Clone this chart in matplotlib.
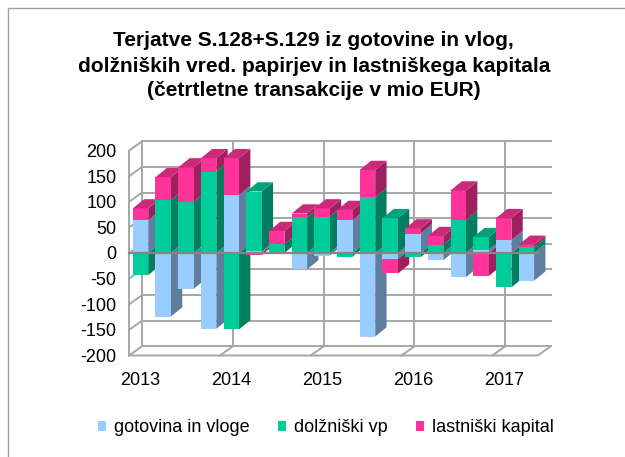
import matplotlib
matplotlib.use('Agg')
import matplotlib.pyplot as plt
from matplotlib.patches import Polygon, Patch, Rectangle
import numpy as np

plt.rcParams['font.family'] = ['Liberation Sans', 'DejaVu Sans']

# ---- data ----
quarters = ['2013Q1', '2013Q2', '2013Q3', '2013Q4', '2014Q1', '2014Q2', '2014Q3', '2014Q4',
            '2015Q1', '2015Q2', '2015Q3', '2015Q4', '2016Q1', '2016Q2', '2016Q3', '2016Q4',
            '2017Q1', '2017Q2']
gotovina = [64, -124, -70, -148, 113, 3, 0, -32, -5, 64, -163, -12, 38, -14, -47, 6, 25, -54]
dolzniski = [-43, 103, 100, 159, -149, 117, 17, 70, 71, -7, 109, 68, -8, 16, 64, 25, -67, 11]
lastniski = [23, 45, 67, 26, 72, -4, 26, 7, 16, 20, 53, -28, 10, 17, 58, -45, 43, 5]
series_names = ['gotovina in vloge', 'dolžniški vp', 'lastniški kapital']
series_colors = ['#99CCFF', '#00CC99', '#FF3399']
year_labels = ['2013', '2014', '2015', '2016', '2017']
year_pos = [0, 4, 8, 12, 16]
yticks = list(range(-200, 201, 50))
title_lines = ['Terjatve S.128+S.129 iz gotovine in vlog,',
               'dolžniških vred. papirjev in lastniškega kapitala',
               '(četrtletne transakcije v mio EUR)']

# ---- style ----
grid_c = '#A6A6A6'
axis_c = '#868686'
wall_dx, wall_dy = 0.57, 18.0
bar_dx, bar_dy = 0.50, 18.0
bar_w = 0.68
fs = 13


def shade(c, f):
    r, g, b = matplotlib.colors.to_rgb(c)
    return (r * f, g * f, b * f)


fig = plt.figure(figsize=(6.25, 4.57), dpi=100)
fig.add_artist(Rectangle((8 / 625, -0.1), 1.2, (457 - 8) / 457 + 0.1,
                         transform=fig.transFigure, fill=False,
                         edgecolor='#A0A0A0', linewidth=1.0))

ax = fig.add_axes([0.1885, 0.2109, 0.7082, 0.4878])
n = len(quarters)
x0, x1 = -0.5, n - 0.5
ymin, ymax = yticks[0], yticks[-1]
ax.set_xlim(-1.0, 18.5)
ax.set_ylim(-210, 225)
for s in ax.spines.values():
    s.set_visible(False)
ax.set_yticks(yticks)
ax.set_yticklabels([str(v) for v in yticks], fontsize=fs)
ax.set_xticks(year_pos)
ax.set_xticklabels(year_labels, fontsize=fs)
ax.tick_params(axis='y', length=0, pad=1.0)
ax.tick_params(axis='x', length=0, pad=8.0)

lw = 1.4
# back wall horizontal grid lines and left wall slanted lines
for v in yticks:
    ax.plot([x0 + wall_dx, x1 + wall_dx], [v + wall_dy, v + wall_dy], color=grid_c, lw=lw, zorder=1)
    ax.plot([x0, x0 + wall_dx], [v, v + wall_dy], color=grid_c, lw=lw, zorder=1)
# left wall verticals
ax.plot([x0, x0], [ymin, ymax], color=grid_c, lw=lw, zorder=1)
ax.plot([x0 + wall_dx, x0 + wall_dx], [ymin + wall_dy, ymax + wall_dy], color=grid_c, lw=lw, zorder=1)
# floor
ax.plot([x0, x1, x1 + wall_dx], [ymin, ymin, ymin + wall_dy], color=grid_c, lw=lw, zorder=1)
# year separators
for p in year_pos[1:]:
    xb = p - 0.5
    ax.plot([xb + wall_dx, xb + wall_dx], [ymin + wall_dy, ymax + wall_dy], color=grid_c, lw=lw, zorder=1)
    ax.plot([xb, xb + wall_dx], [ymin, ymin + wall_dy], color=grid_c, lw=lw, zorder=1)

# bars
data = [gotovina, dolzniski, lastniski]
z = 3
for i in range(n):
    vals = [d[i] for d in data]
    neg_segs = []
    pos_segs = []
    base_neg = 0.0
    base_pos = 0.0
    for k, v in enumerate(vals):
        if v < 0:
            neg_segs.append((k, base_neg + v, base_neg))
            base_neg += v
        elif v > 0:
            pos_segs.append((k, base_pos, base_pos + v))
            base_pos += v
    xl, xr = i - bar_w / 2, i + bar_w / 2
    for (k, lo, hi) in neg_segs:
        c = series_colors[k]
        ax.add_patch(Polygon([(xr, lo), (xr + bar_dx, lo + bar_dy), (xr + bar_dx, hi + bar_dy), (xr, hi)],
                             closed=True, facecolor=shade(c, 0.62), edgecolor='none', zorder=z))
        ax.add_patch(Polygon([(xl, lo), (xr, lo), (xr, hi), (xl, hi)], closed=True,
                             facecolor=c, edgecolor='none', zorder=z))
    for j, (k, lo, hi) in enumerate(pos_segs):
        c = series_colors[k]
        ax.add_patch(Polygon([(xr, lo), (xr + bar_dx, lo + bar_dy), (xr + bar_dx, hi + bar_dy), (xr, hi)],
                             closed=True, facecolor=shade(c, 0.62), edgecolor='none', zorder=z))
        ax.add_patch(Polygon([(xl, lo), (xr, lo), (xr, hi), (xl, hi)], closed=True,
                             facecolor=c, edgecolor='none', zorder=z))
        if j == len(pos_segs) - 1:
            ax.add_patch(Polygon([(xl, hi), (xr, hi), (xr + bar_dx, hi + bar_dy), (xl + bar_dx, hi + bar_dy)],
                                 closed=True, facecolor=shade(c, 0.8), edgecolor='none', zorder=z))
    z += 0.01

# zero axis line
ax.plot([x0, x1], [0, 0], color=axis_c, lw=1.6, zorder=10)

# title
for t, yp in zip(title_lines, [40, 66, 91]):
    fig.text(0.502, 1 - yp / 457, t, ha='center', va='center', fontsize=15, fontweight='bold')

handles = [Patch(facecolor=c, edgecolor='none') for c in series_colors]
fig.legend(handles, series_names, loc='center', bbox_to_anchor=(326 / 625, 1 - 428 / 457),
           ncol=3, frameon=False, fontsize=fs, handlelength=0.42, handleheight=0.42,
           handletextpad=0.45, columnspacing=1.6)

fig.savefig('out.png', dpi=100)
